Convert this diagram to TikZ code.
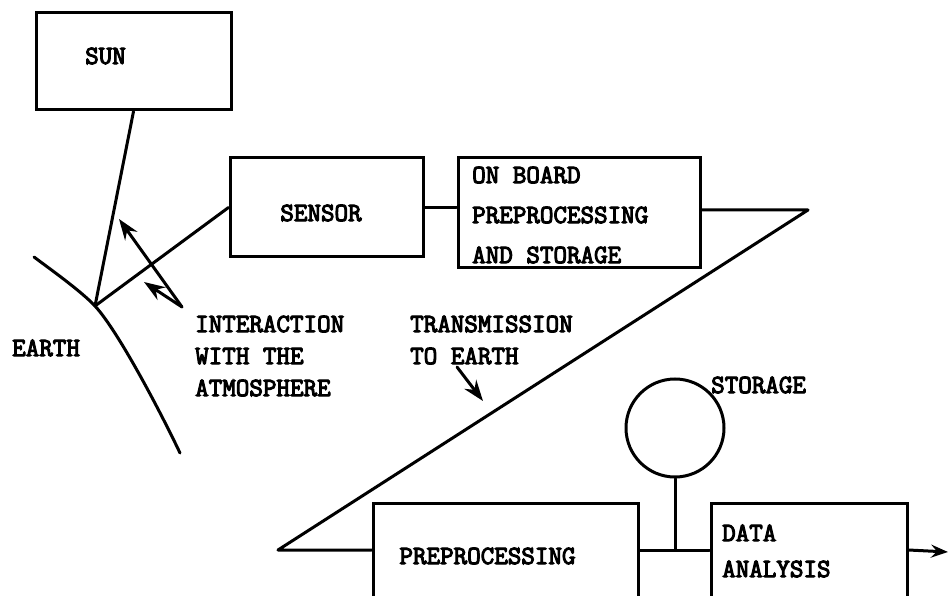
\documentclass[tikz,border=0pt]{standalone}
\usepackage{fontspec}
\newfontfamily\mono{Latin Modern Mono}[FakeBold=4]
\usetikzlibrary{arrows.meta}

\tikzset{
  wire/.style={line width=3pt, line cap=round, line join=round},
  box/.style={draw, line width=3pt, rectangle, inner sep=0pt},
  lbl/.style={inner sep=0pt, align=left,
    font=\mono\fontsize{26.3}{32}\selectfont},
  tip/.style={-{Stealth[length=21pt,width=15pt,inset=7pt]}},
}

\begin{document}
\begin{tikzpicture}[x=1pt, y=-1pt]
\useasboundingbox (0,0) rectangle (948,596);
\fill[white] (0,0) rectangle (948,596);
\clip (0,0) rectangle (948,596);

% blocks
\node[box, minimum width=195pt, minimum height=97pt]  (sun)    at (133.5,61.5) {};
\node[box, minimum width=193pt, minimum height=99pt]  (sensor) at (326.5,207.5) {};
\node[box, minimum width=242pt, minimum height=110pt] (obp)    at (579,213) {};
\node[box, minimum width=265pt, minimum height=94pt]  (prep)   at (505.5,550) {};
\node[box, minimum width=196pt, minimum height=94pt]  (ana)    at (809,550) {};
\node[draw, line width=3pt, circle, minimum size=98pt, inner sep=0pt] (store) at (675,428) {};

% block texts
\node[lbl, anchor=west] (tsun) at (85,56) {SUN};
\node[lbl] (tsensor) at (321,213) {SENSOR};
\node[lbl, anchor=west, font=\mono\fontsize{26.3}{40}\selectfont] (tobp) at (472,215)
  {ON BOARD\\PREPROCESSING\\AND STORAGE};
\node[lbl] (tprep) at (487.5,556) {PREPROCESSING};
\node[lbl, anchor=west, font=\mono\fontsize{26.3}{36}\selectfont] (tana) at (722,551)
  {DATA\\ANALYSIS};
\node[lbl, anchor=west] (tstore) at (711,385) {STORAGE};

% free texts
\node[lbl, anchor=west] (tearth) at (12,348) {EARTH};
\node[lbl, anchor=west] (tatm) at (195,356) {INTERACTION\\WITH THE\\ATMOSPHERE};
\node[lbl, anchor=west] (ttrans) at (410,340) {TRANSMISSION\\TO EARTH};

% key points of the paths
\coordinate (ground) at (95,306);
\coordinate (earthtop) at (34,257);
\coordinate (earthbot) at (180,453);
\coordinate (apex) at (808,210);
\coordinate (turn) at (278,550);
\coordinate (outlet) at (948,552);
\coordinate (atm) at (182,307);
\coordinate (atmA) at (119,219);
\coordinate (atmB) at (144,282);
\coordinate (txA) at (457,367);
\coordinate (txB) at (483,401);

% earth surface
\draw[wire] (earthtop) .. controls (50,269) and (81,291) .. (ground)
  .. controls (119,332) and (163,417) .. (earthbot);

% sun and sensor rays
\draw[wire] (sun.south) -- (ground);
\draw[wire] (ground) -- (sensor.west);

% atmosphere interaction arrows
\draw[wire, tip] (atm) -- (atmA);
\draw[wire, tip] (atm) -- (atmB);

% on-board chain and downlink
\draw[wire] (sensor.east) -- (sensor.east -| obp.west);
\draw[wire] (obp.east |- apex) -- (apex) -- (turn) -- (prep.west);
\draw[wire, tip] (txA) -- (txB);

% ground processing
\draw[wire] (prep.east) -- (ana.west);
\draw[wire] (store.south) -- (store.south |- prep.east);
\draw[wire, -{Stealth[length=17pt,width=13pt,inset=6pt]}] (ana.east) -- (outlet);
\end{tikzpicture}
\end{document}
